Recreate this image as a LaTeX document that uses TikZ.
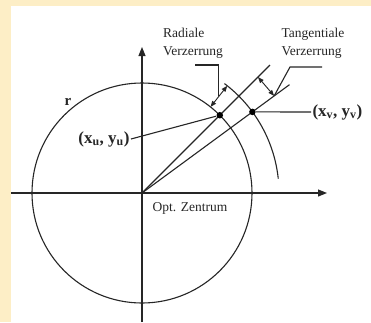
\documentclass[tikz,border=0pt]{standalone}
\usepackage{fontspec}
\setmainfont{Liberation Serif}
\usetikzlibrary{arrows.meta}
\definecolor{cream}{RGB}{253,238,198}
\begin{document}
\begin{tikzpicture}[x=1pt,y=1pt,
    line width=1.1pt, color=black!85,
    axis/.style={-{Triangle[length=9pt,width=7pt]}},
    dim/.style={{Triangle[length=6pt,width=4.5pt]}-{Triangle[length=6pt,width=4.5pt]}, line width=0.9pt},
    lbl/.style={font=\fontsize{13.5}{18}\selectfont, inner sep=0pt},
    dot/.style={circle, fill=black, inner sep=0pt, minimum size=6.5pt},
    pointlbl/.style={font=\fontsize{17}{20}\selectfont\bfseries, inner sep=1pt}]

    % Background and panel
    \fill[cream] (-142,-129) rectangle (229,193);
    \fill[white] (-131,-129) rectangle (229,187);
    \useasboundingbox (-142,-129) rectangle (229,193);

    % Draw axes
    \coordinate (O) at (0,0);
    \draw[axis] (-131,0) -- (185,0);
    \draw[axis] (0,-129) -- (0,146);

    % Circle r and outer arc
    \draw (O) circle[radius=110];
    \draw (53:137) arc[start angle=53, end angle=6, radius=137];

    % Rays through the two points
    \coordinate (u) at (45:110);
    \coordinate (v) at (36.3:137);
    \coordinate (ue) at (45:181);
    \coordinate (ve) at (36.3:183);
    \draw (O) -- (ue);
    \draw (O) -- (ve);
    \node[dot] (du) at (u) {};
    \node[dot] (dv) at (v) {};

    % Radial distortion
    \coordinate (ra) at (51.5:110);
    \coordinate (rb) at (51.5:137);
    \draw[dim] (ra) -- (rb) coordinate[midway] (rm);
    \node[lbl, align=left] (radial) at (51,150) {Radiale\\Verzerrung};
    \coordinate (rk) at (rm |- 0,128);
    \coordinate (rs) at (53,128);
    \draw (rm) -- (rk) -- (rs);

    % Tangential distortion
    \coordinate (ta) at (45:164);
    \coordinate (tb) at (36.3:164);
    \draw[dim] (ta) -- (tb);
    \node[lbl, align=left] (tang) at (171,150) {Tangentiale\\Verzerrung};
    \coordinate (tk) at (148,126);
    \coordinate (ts) at (180,126);
    \draw (tb) -- (tk) -- (ts);

    % Point labels
    \node[pointlbl, anchor=east] (lu) at (-11,54) {(x\textsubscript{u}, y\textsubscript{u})};
    \draw (du) -- (lu.east);
    \node[pointlbl, anchor=west] (lv) at (169,81) {(x\textsubscript{v}, y\textsubscript{v})};
    \draw (dv) -- (lv.west);

    % Other labels
    \node[lbl, font=\fontsize{15}{18}\selectfont\bfseries] (r) at (-74,91) {r};
    \node[lbl] (oz) at (48,-15) {Opt. Zentrum};

\end{tikzpicture}
\end{document}
